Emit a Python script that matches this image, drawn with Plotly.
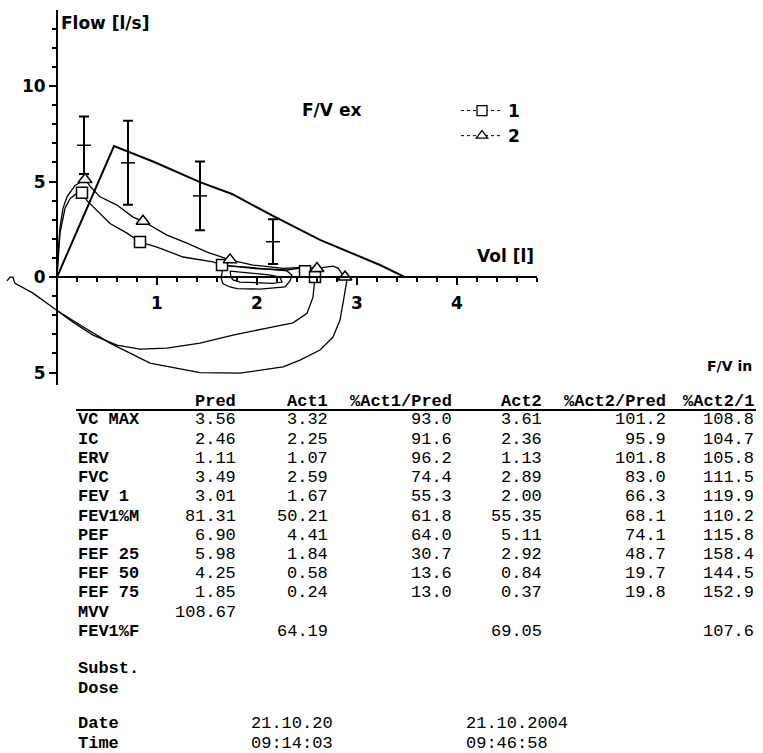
import plotly.graph_objects as go

W, H = 763, 753

# ---------------- data ----------------
# predicted expiratory flow-volume curve
pred_vol = [0, 0.57, 0.96, 1.43, 1.75, 2.16, 2.63, 3.23, 3.48]
pred_flow = [0, 6.86, 6.05, 4.97, 4.35, 3.2, 1.95, 0.63, 0]

# predicted reference points with ranges (PEF, FEF25, FEF50, FEF75)
ref_vol = [0.27, 0.71, 1.43, 2.16]
ref_flow = [6.90, 5.98, 4.25, 1.85]
ref_range = [1.5, 2.2, 1.8, 1.17]

# trial 1 (expiration then inspiration, inspiratory flow plotted downward)
t1_ex_vol = [0, 0.01, 0.03, 0.08, 0.13, 0.19, 0.25, 0.3, 0.43, 0.53, 0.7, 0.83, 1.0, 1.26, 1.56, 1.65, 1.96, 2.3, 2.43, 2.48, 2.55, 2.58]
t1_ex_flow = [0, 1.0, 2.3, 3.6, 4.1, 4.35, 4.41, 4.0, 3.35, 2.8, 2.3, 1.84, 1.57, 1.05, 0.8, 0.63, 0.45, 0.37, 0.47, 0.31, 0.3, 0]
t1_in_vol = [2.58, 2.57, 2.56, 2.5, 2.36, 2.1, 1.76, 1.43, 1.1, 0.83, 0.6, 0.36, 0.16, 0.0]
t1_in_flow = [0, -0.5, -1.05, -1.9, -2.4, -2.67, -3.04, -3.46, -3.72, -3.77, -3.56, -3.04, -2.36, -1.75]

# trial 2
t2_ex_vol = [0, 0.01, 0.03, 0.06, 0.1, 0.18, 0.28, 0.34, 0.43, 0.6, 0.76, 0.86, 1.1, 1.3, 1.5, 1.73, 1.96, 2.26, 2.45, 2.6, 2.76, 2.81, 2.86, 2.88]
t2_ex_flow = [0, 1.2, 2.6, 3.6, 4.2, 4.8, 5.11, 4.7, 4.2, 3.77, 3.14, 2.92, 2.2, 1.78, 1.31, 0.9, 0.63, 0.45, 0.5, 0.45, 0.57, 0.47, 0.1, 0]
t2_in_vol = [2.88, 2.9, 2.86, 2.83, 2.76, 2.63, 2.43, 2.26, 1.83, 1.43, 0.93, 0.53, 0.26, 0.0, -0.24, -0.42, -0.43, -0.44, -0.47, -0.5]
t2_in_flow = [0, -0.15, -1.36, -2.25, -3.14, -3.82, -4.35, -4.7, -5.03, -5.0, -4.5, -3.46, -2.6, -1.75, -0.84, -0.33, -0.2, 0.0, 0.0, -0.2]

# tidal breathing loops
tid_a_vol = [1.66, 1.68, 1.9, 2.1, 2.3, 2.35, 2.33, 2.28, 2.03, 1.8, 1.73, 1.66, 1.64, 1.66]
tid_a_flow = [0.47, 0.6, 0.52, 0.42, 0.32, 0.1, -0.2, -0.52, -0.63, -0.6, -0.52, -0.35, -0.05, 0.47]
tid_b_vol = [1.73, 1.96, 2.12, 2.23, 2.25, 2.16, 1.83, 1.76, 1.74, 1.73]
tid_b_flow = [0.31, 0.2, 0.12, 0.0, -0.26, -0.33, -0.26, -0.15, 0.0, 0.31]

# marker points
t1_mark_vol = [0.25, 0.83, 1.65, 2.48, 2.58]
t1_mark_flow = [4.41, 1.84, 0.63, 0.3, 0.0]
t2_mark_vol = [0.28, 0.86, 1.73, 2.6, 2.88]
t2_mark_flow = [5.11, 2.92, 0.9, 0.45, 0.0]

# axis ticks
x_major = [1, 2, 3, 4]
x_minor = [round(0.2 * i, 1) for i in range(1, 25) if i % 5 != 0]
y_major = [-5, 0, 5, 10]
y_major_text = ["5", "0", "5", "10"]
y_minor = [-4, -3, -2, -1, 1, 2, 3, 4, 6, 7, 8, 9, 11, 12, 13]

# table
params = ["VC MAX", "IC", "ERV", "FVC", "FEV 1", "FEV1%M", "PEF", "FEF 25", "FEF 50", "FEF 75", "MVV", "FEV1%F"]
pred = [3.56, 2.46, 1.11, 3.49, 3.01, 81.31, 6.90, 5.98, 4.25, 1.85, 108.67, None]
act1 = [3.32, 2.25, 1.07, 2.59, 1.67, 50.21, 4.41, 1.84, 0.58, 0.24, None, 64.19]
pct1 = [93.0, 91.6, 96.2, 74.4, 55.3, 61.8, 64.0, 30.7, 13.6, 13.0, None, None]
act2 = [3.61, 2.36, 1.13, 2.89, 2.00, 55.35, 5.11, 2.92, 0.84, 0.37, None, 69.05]
pct2 = [101.2, 95.9, 101.8, 83.0, 66.3, 68.1, 74.1, 48.7, 19.7, 19.8, None, None]
pct21 = [108.8, 104.7, 105.8, 111.5, 119.9, 110.2, 115.8, 158.4, 144.5, 152.9, None, 107.6]
headers = ["Pred", "Act1", "%Act1/Pred", "Act2", "%Act2/Pred", "%Act2/1"]
dates = ["21.10.20", "21.10.2004"]
times = ["09:14:03", "09:46:58"]

# ---------------- layout geometry ----------------
X_RANGE = [-0.57, 4.80]
Y_RANGE = [-5.65, 13.98]
PLOT_L, PLOT_R, PLOT_T, PLOT_B = 0, 537, 10, 385


def px(x):
    return x / W


def py(y):
    return 1 - y / H


xdom = [px(PLOT_L), px(PLOT_R)]
ydom = [py(PLOT_B), py(PLOT_T)]
yaxis_pos = xdom[0] + (0 - X_RANGE[0]) / (X_RANGE[1] - X_RANGE[0]) * (xdom[1] - xdom[0])
xaxis_pos = ydom[0] + (0 - Y_RANGE[0]) / (Y_RANGE[1] - Y_RANGE[0]) * (ydom[1] - ydom[0])

BLACK = "#000000"
fig = go.Figure()

fig.add_trace(go.Scatter(x=pred_vol, y=pred_flow, mode="lines",
                         line=dict(color=BLACK, width=2), showlegend=False, hoverinfo="skip"))
fig.add_trace(go.Scatter(x=ref_vol, y=ref_flow, mode="markers",
                         marker=dict(symbol="line-ew", size=10, line=dict(color=BLACK, width=1.5)),
                         error_y=dict(type="data", array=ref_range, color=BLACK, thickness=2, width=5),
                         showlegend=False, hoverinfo="skip"))
for vx, vy in [(t1_ex_vol + t1_in_vol, t1_ex_flow + t1_in_flow),
               (t2_ex_vol + t2_in_vol, t2_ex_flow + t2_in_flow),
               (tid_a_vol, tid_a_flow), (tid_b_vol, tid_b_flow)]:
    fig.add_trace(go.Scatter(x=vx, y=vy, mode="lines", line=dict(color=BLACK, width=1.3),
                             showlegend=False, hoverinfo="skip"))

fig.add_trace(go.Scatter(x=t1_mark_vol, y=t1_mark_flow, mode="markers",
                         marker=dict(symbol="square", size=11, color="white", line=dict(color=BLACK, width=1.5)),
                         showlegend=False, hoverinfo="skip"))
fig.add_trace(go.Scatter(x=t2_mark_vol, y=t2_mark_flow, mode="markers",
                         marker=dict(symbol="triangle-up", size=12, color="white", line=dict(color=BLACK, width=1.5)),
                         showlegend=False, hoverinfo="skip"))

# legend entries
fig.add_trace(go.Scatter(x=[None], y=[None], mode="lines+markers", name="1",
                         line=dict(color=BLACK, width=1, dash="dot"),
                         marker=dict(symbol="square", size=10, color="white", line=dict(color=BLACK, width=1.3))))
fig.add_trace(go.Scatter(x=[None], y=[None], mode="lines+markers", name="2",
                         line=dict(color=BLACK, width=1, dash="dot"),
                         marker=dict(symbol="triangle-up", size=10, color="white", line=dict(color=BLACK, width=1.3))))

AXFONT = dict(family="DejaVu Sans", size=17, color=BLACK, weight="bold")

fig.update_layout(
    width=W, height=H,
    margin=dict(l=0, r=0, t=0, b=0),
    paper_bgcolor="white", plot_bgcolor="white",
    showlegend=True,
    legend=dict(x=px(456), y=py(93), xanchor="left", yanchor="top",
                font=dict(family="DejaVu Sans", size=17, color=BLACK, weight="bold"),
                bgcolor="rgba(0,0,0,0)", itemwidth=42, tracegroupgap=0),
    xaxis=dict(domain=xdom, range=X_RANGE, anchor="free", position=xaxis_pos,
               showgrid=False, zeroline=False, showline=False,
               tickmode="array", tickvals=x_major, ticktext=[str(v) for v in x_major],
               ticks="outside", ticklen=7, tickwidth=2, tickcolor=BLACK,
               tickfont=AXFONT, ticklabelstandoff=4,
               minor=dict(tickmode="array", tickvals=x_minor, ticks="outside", ticklen=4,
                          tickwidth=1.5, tickcolor=BLACK, showgrid=False)),
    yaxis=dict(domain=ydom, range=Y_RANGE, anchor="free", position=yaxis_pos,
               showgrid=False, zeroline=False, showline=True, linecolor=BLACK, linewidth=2,
               tickmode="array", tickvals=y_major, ticktext=y_major_text,
               ticks="outside", ticklen=7, tickwidth=2, tickcolor=BLACK,
               tickfont=AXFONT,
               minor=dict(tickmode="array", tickvals=y_minor, ticks="outside", ticklen=4,
                          tickwidth=1.5, tickcolor=BLACK, showgrid=False)),
)

shapes = [
    dict(type="line", xref="x", yref="y", x0=0, x1=X_RANGE[1], y0=0, y1=0,
         line=dict(color=BLACK, width=2)),
    dict(type="line", xref="paper", yref="paper", x0=px(76), x1=px(756), y0=py(410), y1=py(410),
         line=dict(color=BLACK, width=2)),
]
fig.update_layout(shapes=shapes)

ann = []


def text(x, y, s, size=17, family="DejaVu Sans", anchor="left", bold=True):
    ann.append(dict(x=px(x), y=py(y), xref="paper", yref="paper", text=s, showarrow=False,
                    xanchor=anchor, yanchor="middle",
                    font=dict(family=family, size=size, color=BLACK,
                              weight="bold" if bold else "normal")))


text(59, 23, "Flow [l/s]")
text(300, 110, "F/V ex")
text(475, 256, "Vol [l]")
text(705, 366, "F/V in", size=14)

MONO = "Liberation Mono"
col_right = [238, 330, 454, 544, 668, 756]
row_y = [420 + 19.2 * i for i in range(len(params))]
HEADER_Y = 401
for h, cx in zip(headers, col_right):
    text(cx, HEADER_Y, h, family=MONO, anchor="right")
cols = [(pred, "{:.2f}"), (act1, "{:.2f}"), (pct1, "{:.1f}"), (act2, "{:.2f}"), (pct2, "{:.1f}"), (pct21, "{:.1f}")]
for i, (p, y) in enumerate(zip(params, row_y)):
    text(76, y, p, family=MONO)
    for (vals, fmt), cx in zip(cols, col_right):
        if vals[i] is not None:
            text(cx, y, fmt.format(vals[i]), family=MONO, anchor="right", bold=False)

text(76, 668, "Subst.", family=MONO)
text(76, 688, "Dose", family=MONO)
text(76, 723, "Date", family=MONO)
text(76, 743, "Time", family=MONO)
for s, x in zip(dates, [249, 464]):
    text(x, 723, s, family=MONO, bold=False)
for s, x in zip(times, [249, 464]):
    text(x, 743, s, family=MONO, bold=False)

fig.update_layout(annotations=ann)
fig.write_html("out.html",
               config={"displayModeBar": False},
               post_script="document.body.style.margin='0';document.body.style.overflow='hidden';")
